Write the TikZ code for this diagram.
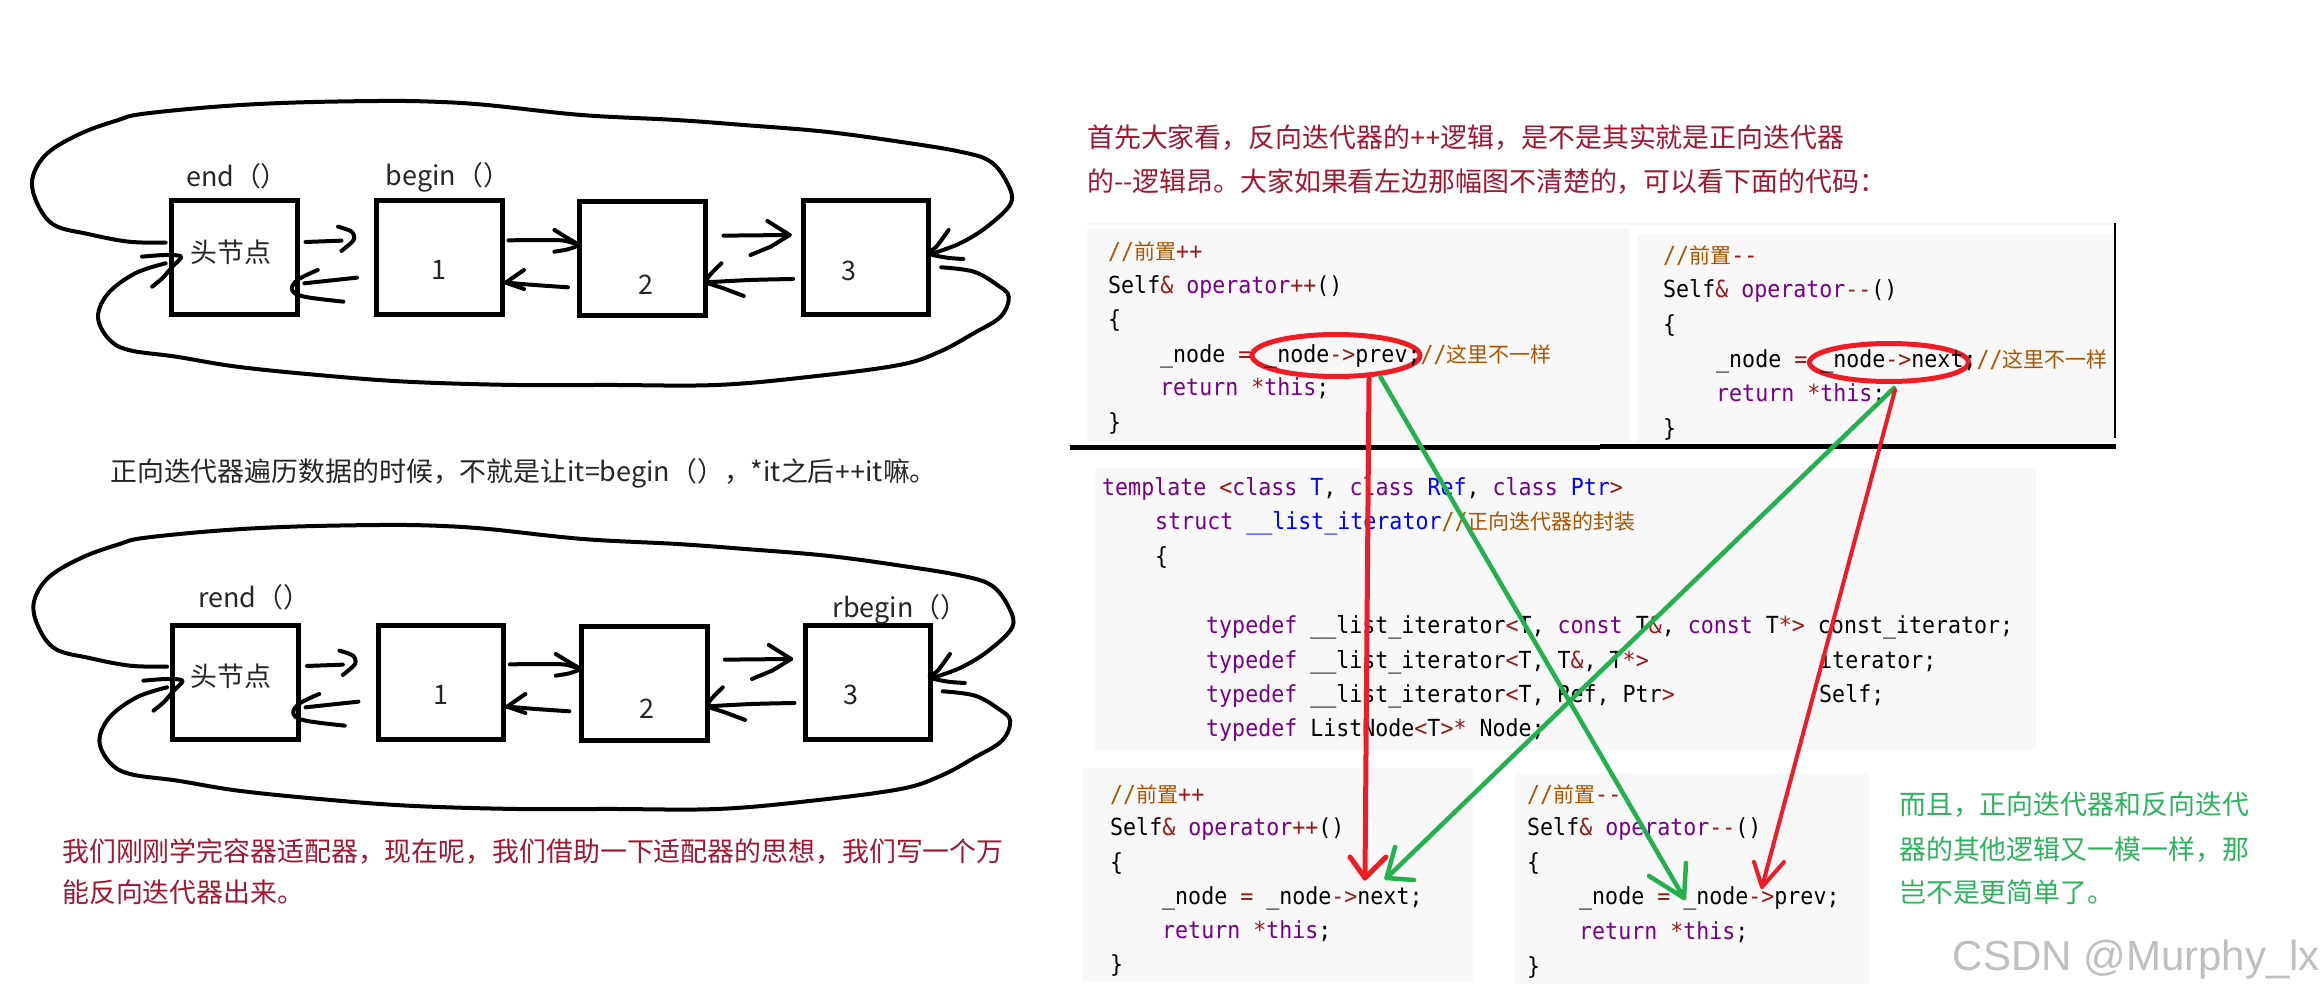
\documentclass[tikz,border=0pt]{standalone}
\usepackage{fontspec}
\setmainfont{Noto Sans CJK SC}
\newfontfamily\zhfont{Noto Sans CJK SC}
\newfontfamily\latfont{Noto Sans}
\newfontfamily\monofnt[FakeStretch=0.92]{DejaVu Sans Mono}
\newfontfamily\wmfont{Liberation Sans}
\definecolor{kw}{HTML}{770088}
\definecolor{opc}{HTML}{981A1A}
\definecolor{dfc}{HTML}{0000FF}
\definecolor{cmc}{HTML}{AA5500}
\definecolor{codebg}{HTML}{F8F8F8}
\definecolor{redtxt}{HTML}{A01830}
\definecolor{greentxt}{HTML}{2DB35C}
\definecolor{inkred}{HTML}{EE1C25}
\definecolor{inkgreen}{HTML}{22B14C}
\newcommand\ckw[1]{\textcolor{kw}{#1}}
\newcommand\cop[1]{\textcolor{opc}{#1}}
\newcommand\cdf[1]{\textcolor{dfc}{#1}}
\newcommand\ccm[1]{\textcolor{cmc}{#1}}
\newcommand\cz[1]{{\zhfont\fontsize{21}{21}\selectfont #1}}
\newcommand\lat[1]{{\latfont #1}}
\newcommand\fsz{\fontsize{26.9}{27}\selectfont}
\tikzset{
  ink/.style={line width=4pt,line cap=round,line join=round,black},
  boxn/.style={draw=black,line width=5pt,minimum width=125.5pt,minimum height=114pt,inner sep=0pt},
  lab/.style={inner sep=0pt,font=\fsz,text=black!85},
  para/.style={inner sep=0pt,anchor=base west,font=\fsz},
  cl/.style={inner sep=0pt,anchor=base west,font=\monofnt\fontsize{23.5}{24}\selectfont,text=black},
  bg/.style={fill=codebg,draw=none},
  oval/.style={draw=inkred,line width=5pt,ellipse,inner sep=0pt},
  redar/.style={draw=inkred,line width=5pt,line cap=round,line join=round},
  greenar/.style={draw=inkgreen,line width=4.5pt,line cap=round,line join=round},
}
\usetikzlibrary{shapes.geometric}
% hand-drawn strokes of one ring, in a local coordinate system
\newcommand\inkstrokes{%
  \coordinate (ts) at (245,458); \coordinate (tt) at (1380,490);
  \coordinate (bs) at (1392,532); \coordinate (bt) at (245,520);
  \draw[ink] plot[smooth,tension=0.6] coordinates {(ts) (190,455) (130,432) (80,405) (55,340) (48,265) (70,190) (120,130) (175,90) (210,72) (320,50) (430,38) (560,33) (640,35) (720,45) (860,75) (1000,90) (1100,105) (1220,125) (1330,155) (1420,185) (1465,215) (1490,280) (1495,340) (1460,410) (1420,460) (tt)};
  \draw[ink] plot[smooth,tension=0.5] coordinates {(1403,420) (1385,470) (1373,490) (1400,503) (1425,507)};
  \draw[ink] plot[smooth,tension=0.6] coordinates {(bs) (1440,545) (1475,585) (1492,620) (1480,680) (1440,730) (1390,785) (1330,825) (1200,860) (1060,885) (900,885) (760,885) (600,875) (470,855) (350,830) (260,800) (190,780) (160,745) (145,680) (160,610) (200,550) (bt)};
  \draw[ink] plot[smooth,tension=0.5] coordinates {(210,500) (245,495) (268,500) (255,530) (240,565) (225,590)};
  % head -> 1
  \coordinate (a1s) at (452,456); \coordinate (a1t) at (523,450);
  \draw[ink] (a1s) -- (505,452);
  \draw[ink] plot[smooth,tension=0.5] coordinates {(500,410) (520,425) (a1t) (505,483)};
  % 1 -> 2
  \coordinate (a2s) at (752,451); \coordinate (a2t) at (855,465);
  \draw[ink] plot[smooth,tension=0.4] coordinates {(a2s) (830,451) (a2t)};
  \draw[ink] plot[smooth,tension=0.4] coordinates {(820,420) (840,445) (a2t) (840,478) (820,485)};
  % 2 -> 3
  \coordinate (a3s) at (1070,437); \coordinate (a3t) at (1168,435);
  \draw[ink] (a3s) -- (a3t);
  \draw[ink] (1135,393) -- (a3t) -- (1140,470) -- (1110,495);
  % 1 -> head
  \coordinate (b1s) at (528,563); \coordinate (b1t) at (450,580);
  \draw[ink] (b1s) -- (b1t);
  \draw[ink] plot[smooth,tension=0.6] coordinates {(470,540) (440,570) (432,600) (450,620) (508,635)};
  % 2 -> 1
  \coordinate (b2s) at (840,592); \coordinate (b2t) at (748,578);
  \draw[ink] plot[smooth,tension=0.4] coordinates {(b2s) (790,585) (b2t)};
  \draw[ink] (775,540) -- (b2t) -- (775,597);
  % 3 -> 2
  \coordinate (b3s) at (1173,567); \coordinate (b3t) at (1045,577);
  \draw[ink] plot[smooth,tension=0.4] coordinates {(b3s) (1110,570) (b3t)};
  \draw[ink] plot[smooth,tension=0.4] coordinates {(1067,520) (1050,555) (b3t) (1070,595) (1100,618)};
}
\begin{document}
\begin{tikzpicture}[x=1pt,y=-1pt]
\useasboundingbox (0,0) rectangle (2322,995);
\fill[white] (0,0) rectangle (2322,995);

% ---- code panels
\fill[codebg] (1087,223) rectangle (2115,225);
\fill[bg] (1087,229) rectangle (1630,442);
\fill[bg] (1637,235) rectangle (2115,443);
\fill[bg] (1095,468) rectangle (2036,750);
\fill[bg] (1083,768) rectangle (1473,981);
\fill[bg] (1515,773) rectangle (1869,984);
\draw[black,line width=2.5pt] (2115,223) -- (2115,438);
\fill[black] (1070,445) rectangle (1600,450);
\fill[black] (1600,444) rectangle (2116,449);

% ---- upper ring
\node[boxn] (h1) at (234.4,257.5) {};
\node[boxn] (n11) at (439.3,257.5) {};
\node[boxn] (n12) at (642.3,258.5) {};
\node[boxn] (n13) at (866.2,257.5) {};
\begin{scope}[shift={(0pt,-90pt)},x=0.6761pt,y=-0.3333pt,name prefix=u-]
\inkstrokes
\end{scope}
\node[lab] (lend) at (237,176) {end（）};
\node[lab] (lbeg) at (448,177) {begin（）};
\node[lab] (th1) at (231,252) {头节点};
\node[lab] (t11) at (439,270) {1};
\node[lab] (t12) at (646,285) {2};
\node[lab] (t13) at (849,271) {3};
\node[para,text=black!85] (mid) at (110,481) {正向迭代器遍历数据的时候，不就是让it=begin（），*it之后\lat{++}it嘛。};

% ---- lower ring
\node[boxn] (h2) at (235.4,682) {};
\node[boxn] (n21) at (441,682) {};
\node[boxn] (n22) at (644.3,683) {};
\node[boxn] (n23) at (868.2,682) {};
\begin{scope}[shift={(1.4pt,-514pt)},x=0.6761pt,y=-0.3333pt,name prefix=l-]
\inkstrokes
\end{scope}
\node[lab] (lrend) at (254,597) {rend（）};
\node[lab] (lrbeg) at (900,609) {rbegin（）};
\node[lab] (th2) at (231,676) {头节点};
\node[lab] (t21) at (441,695) {1};
\node[lab] (t22) at (647,709) {2};
\node[lab] (t23) at (851,695) {3};
\node[para,text=redtxt] (rl1) at (62,861) {我们刚刚学完容器适配器，现在呢，我们借助一下适配器的思想，我们写一个万};
\node[para,text=redtxt] (rl2) at (62,902) {能反向迭代器出来。};

% ---- heading
\node[para,text=redtxt] (hd1) at (1087,148) {首先大家看，反向迭代器的\lat{++}逻辑，是不是其实就是正向迭代器};
\node[para,text=redtxt] (hd2) at (1087,192) {的-{}-逻辑昂。大家如果看左边那幅图不清楚的，可以看下面的代码：};

% ---- ovals, under the code text so the underscores stay visible
\node[oval,minimum width=168pt,minimum height=42pt] (e1) at (1336,355.5) {};
\node[oval,minimum width=159pt,minimum height=38pt] (e2) at (1889,362.5) {};

% ---- code: box 1
\node[cl] (c1a) at (1108,259) {\ccm{//\cz{前置}}\cop{++}};
\node[cl] (c1b) at (1108,293) {Self\cop{\&} \ckw{operator}\cop{++}()};
\node[cl] (c1c) at (1108,327) {\{};
\node[cl] (c1d) at (1160,362) {\_node \cop{=} \_node\cop{->}prev;\ccm{//\cz{这里不一样}}};
\node[cl] (c1e) at (1160,395) {\ckw{return} \cop{*}\ckw{this};};
\node[cl] (c1f) at (1108,430) {\}};
% ---- code: box 2
\node[cl] (c2a) at (1663,263) {\ccm{//\cz{前置}}\cop{-{}-}};
\node[cl] (c2b) at (1663,298) {Self\cop{\&} \ckw{operator}\cop{-{}-}()};
\node[cl] (c2c) at (1663,332) {\{};
\node[cl] (c2d) at (1716,367) {\_node \cop{=} \_node\cop{->}next;\ccm{//\cz{这里不一样}}};
\node[cl] (c2e) at (1716,401) {\ckw{return} \cop{*}\ckw{this};};
\node[cl] (c2f) at (1663,436) {\}};
% ---- code: template
\node[cl] (c3a) at (1102,495) {\ckw{template} \cop{<}\ckw{class} \cdf{T}, \ckw{class} \cdf{Ref}, \ckw{class} \cdf{Ptr}\cop{>}};
\node[cl] (c3b) at (1155,529) {\ckw{struct} \cdf{\_\_list\_iterator}\ccm{//\cz{正向迭代器的封装}}};
\node[cl] (c3c) at (1155,564) {\{};
\node[cl] (c3d) at (1206,633) {\ckw{typedef} \_\_list\_iterator\cop{<}T, \ckw{const} T\cop{\&}, \ckw{const} T\cop{*>} const\_iterator;};
\node[cl] (c3e) at (1206,668) {\ckw{typedef} \_\_list\_iterator\cop{<}T, T\cop{\&}, T\cop{*>}};
\node[cl] (c3e2) at (1819,668) {iterator;};
\node[cl] (c3f) at (1206,702) {\ckw{typedef} \_\_list\_iterator\cop{<}T, Ref, Ptr\cop{>}};
\node[cl] (c3f2) at (1819,702) {Self;};
\node[cl] (c3g) at (1206,736) {\ckw{typedef} ListNode\cop{<}T\cop{>*} Node;};
% ---- code: bottom left
\node[cl] (c4a) at (1110,802) {\ccm{//\cz{前置}}\cop{++}};
\node[cl] (c4b) at (1110,835) {Self\cop{\&} \ckw{operator}\cop{++}()};
\node[cl] (c4c) at (1110,870) {\{};
\node[cl] (c4d) at (1162,904) {\_node \cop{=} \_node\cop{->}next;};
\node[cl] (c4e) at (1162,938) {\ckw{return} \cop{*}\ckw{this};};
\node[cl] (c4f) at (1110,972) {\}};
% ---- code: bottom right
\node[cl] (c5a) at (1527,802) {\ccm{//\cz{前置}}\cop{-{}-}};
\node[cl] (c5b) at (1527,835) {Self\cop{\&} \ckw{operator}\cop{-{}-}()};
\node[cl] (c5c) at (1527,870) {\{};
\node[cl] (c5d) at (1579,904) {\_node \cop{=} \_node\cop{->}prev;};
\node[cl] (c5e) at (1579,939) {\ckw{return} \cop{*}\ckw{this};};
\node[cl] (c5f) at (1527,974) {\}};

% ---- green note
\node[para,text=greentxt] (g1) at (1899,814) {而且，正向迭代器和反向迭代};
\node[para,text=greentxt] (g2) at (1899,859) {器的其他逻辑又一模一样，那};
\node[para,text=greentxt] (g3) at (1899,902) {岂不是更简单了。};

% ---- watermark
\node[inner sep=0pt,anchor=base east,text=black!25,font=\wmfont\fontsize{42}{42}\selectfont] (wm) at (2320,970) {CSDN @Murphy\_lx};

% ---- crossing arrows
\coordinate (r1s) at (1369,379); \coordinate (r1t) at (1365,878);
\coordinate (g1s) at (1380.5,377); \coordinate (g1t) at (1684,898);
\coordinate (g2s) at (1894,388); \coordinate (g2t) at (1386.5,878);
\coordinate (r2s) at (1895,390); \coordinate (r2t) at (1762,887);
\draw[greenar] (g1s) -- (g1t);
\draw[greenar] (g2s) -- (g2t);
\draw[redar] (r1s) -- (r1t);
\draw[redar,line width=4pt] (r2s) -- (r2t);
\draw[redar] (1350,857) -- (r1t) -- (1386,857);
\draw[redar,line width=4pt] (1754,862) -- (r2t) -- (1784,862);
\draw[greenar] (1649,876) -- (g1t) -- (1686,863);
\draw[greenar] (1395,847) -- (g2t) -- (1414,880);
\end{tikzpicture}
\end{document}
